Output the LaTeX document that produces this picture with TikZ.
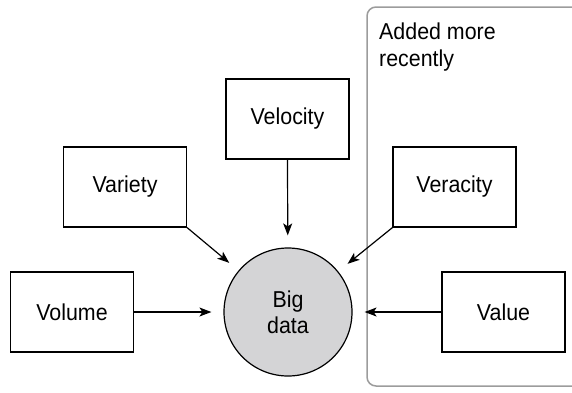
\documentclass[tikz,border=0pt]{standalone}
\usepackage{fontspec}
\setmainfont{Liberation Sans}[FakeStretch=0.93]
\usetikzlibrary{arrows.meta}
\definecolor{bubble}{HTML}{D4D4D6}
\definecolor{groupline}{HTML}{9C9C9C}
\begin{document}
\begin{tikzpicture}[x=1pt,y=-1pt,
  vbox/.style={draw=black,line width=1.2pt,minimum width=123pt,minimum height=80pt,inner sep=0pt,font=\fontsize{23}{27}\selectfont},
  hub/.style={circle,draw=black,line width=1.2pt,fill=bubble,minimum size=128pt,inner sep=0pt,align=center,font=\fontsize{23}{26}\selectfont},
  feed/.style={line width=1.2pt,-{Stealth[length=12pt,width=9pt,inset=3pt]},shorten >=12pt}]
\useasboundingbox (0,0) rectangle (572,392);
\begin{scope}
\clip (0,0) rectangle (572,392);
\draw[groupline,line width=1.5pt,rounded corners=9pt] (600,7) -- (367,7) -- (367,386) -- (600,386);
\end{scope}
\node[anchor=north west,inner sep=0pt,align=left,font=\fontsize{23}{27}\selectfont] (grp) at (379,23) {Added more\\recently};

\node[hub] (big) at (288,312) {Big\\data};
\node[vbox] (velocity) at (287.5,119) {Velocity};
\node[vbox] (variety) at (125,187) {Variety};
\node[vbox] (veracity) at (454.5,187) {Veracity};
\node[vbox] (volume) at (72,312) {Volume};
\node[vbox] (value) at (503.5,312) {Value};

\draw[feed] (velocity.south) -- (big);
\draw[feed] (variety.south east) -- (big);
\draw[feed] (veracity.south west) -- (big);
\draw[feed] (volume.east) -- (big);
\draw[feed] (value.west) -- (big);
\end{tikzpicture}
\end{document}
